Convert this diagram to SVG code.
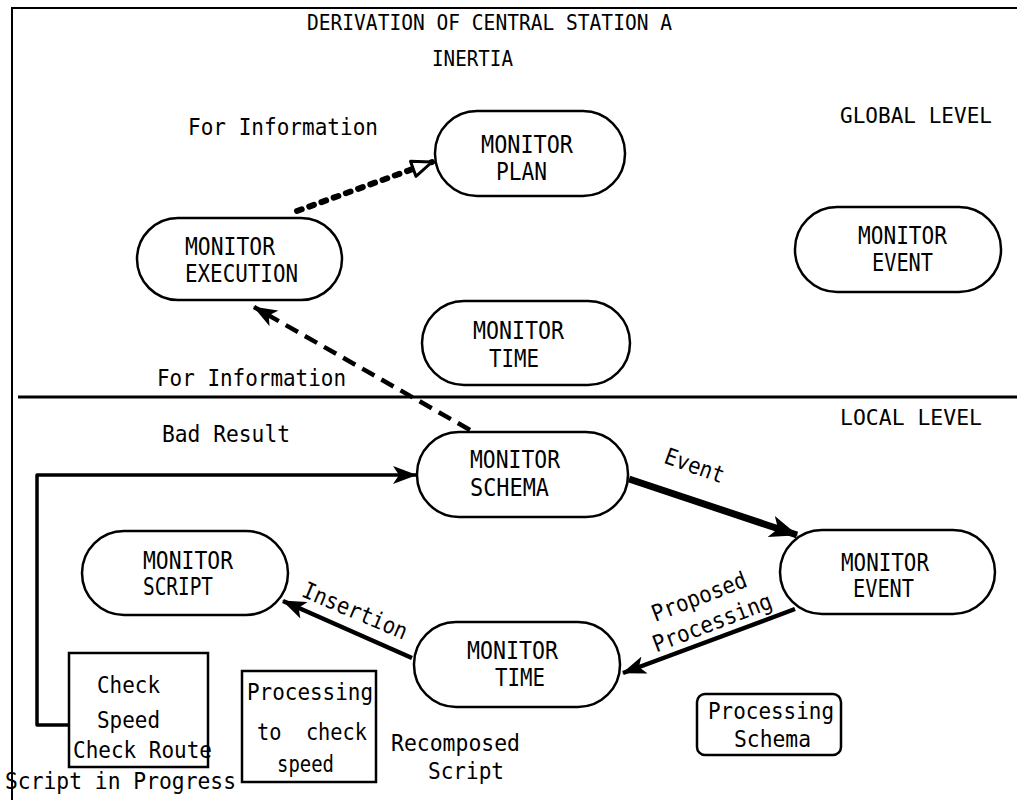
<svg xmlns="http://www.w3.org/2000/svg" width="1017" height="800" viewBox="0 0 1017 800">
<style>
text{font-family:"DejaVu Sans Mono","Liberation Mono",monospace;fill:#000;}
.n{font-size:24px;}
.l{font-size:23px;}
.t{font-size:21px;}
.pre{white-space:pre;}
.node{fill:#fff;stroke:#000;stroke-width:2.5;}
.box{fill:#fff;stroke:#000;stroke-width:2.5;}
.c{fill:none;stroke:#000;}
</style>
<defs>
<marker id="ah" viewBox="0 0 24 18" refX="23" refY="9" markerWidth="24" markerHeight="18" orient="auto" markerUnits="userSpaceOnUse"><path d="M0,0 L24,9 L0,18 L6,9 z" fill="#000"/></marker>
<marker id="ahb" viewBox="0 0 28 22" refX="27" refY="11" markerWidth="28" markerHeight="22" orient="auto" markerUnits="userSpaceOnUse"><path d="M0,0 L28,11 L0,22 L7,11 z" fill="#000"/></marker>
<marker id="aho" viewBox="0 0 24 20" refX="22" refY="10" markerWidth="24" markerHeight="20" orient="auto" markerUnits="userSpaceOnUse"><path d="M2,2 L22,10 L2,18 z" fill="#fff" stroke="#000" stroke-width="3" stroke-linejoin="round"/></marker>
</defs>
<g id="frame">
<path d="M12,800 L12,8 L1017,8" fill="none" stroke="#000" stroke-width="2"/>
<line x1="18" y1="397" x2="1017" y2="397" stroke="#000" stroke-width="3"/>
</g>
<g id="labels">
<text class="t" x="307" y="30" textLength="365" lengthAdjust="spacingAndGlyphs">DERIVATION OF CENTRAL STATION A</text>
<text class="t" x="432" y="66" textLength="81" lengthAdjust="spacingAndGlyphs">INERTIA</text>
<text class="t" x="840" y="123" textLength="152" lengthAdjust="spacingAndGlyphs">GLOBAL LEVEL</text>
<text class="t" x="840" y="425" textLength="142" lengthAdjust="spacingAndGlyphs">LOCAL LEVEL</text>
<text class="l" x="188" y="135" textLength="190" lengthAdjust="spacingAndGlyphs">For Information</text>
<text class="l" x="157" y="386" textLength="189" lengthAdjust="spacingAndGlyphs">For Information</text>
<text class="l" x="162" y="442" textLength="128" lengthAdjust="spacingAndGlyphs">Bad Result</text>
<text class="l" transform="translate(692,473) rotate(20)" text-anchor="middle" textLength="62" lengthAdjust="spacingAndGlyphs">Event</text>
<text class="l" transform="translate(702,604) rotate(-21)" text-anchor="middle" textLength="100" lengthAdjust="spacingAndGlyphs">Proposed</text>
<text class="l" transform="translate(715,630) rotate(-21)" text-anchor="middle" textLength="126" lengthAdjust="spacingAndGlyphs">Processing</text>
<text class="l" transform="translate(352,618) rotate(23)" text-anchor="middle" textLength="112" lengthAdjust="spacingAndGlyphs">Insertion</text>
<text class="l" x="5" y="789" textLength="231" lengthAdjust="spacingAndGlyphs">Script in Progress</text>
<text class="l" x="391" y="751" textLength="129" lengthAdjust="spacingAndGlyphs">Recomposed</text>
<text class="l" x="428" y="779" textLength="76" lengthAdjust="spacingAndGlyphs">Script</text>
</g>
<g id="connectors">
<path class="c" d="M297,211 L432,162" stroke-width="6" stroke-dasharray="5,8" stroke-linecap="round" marker-end="url(#aho)"/>
<path class="c" d="M470,430 L254,307" stroke-width="4.5" stroke-dasharray="14,8" marker-end="url(#ah)"/>
<path class="c" d="M69,725 L37,725 L37,475 L416,475" stroke-width="3.5" stroke-linejoin="round" marker-end="url(#ah)"/>
<path class="c" d="M629,479 L797,535" stroke-width="7" marker-end="url(#ahb)"/>
<path class="c" d="M795,609 L623,673" stroke-width="4.5" marker-end="url(#ah)"/>
<path class="c" d="M412,658 L283,601" stroke-width="4.5" marker-end="url(#ah)"/>
</g>
<g id="node-plan"><rect class="node" x="435" y="111" width="190" height="85" rx="42" ry="42"/><text class="n" x="481" y="153" textLength="92" lengthAdjust="spacingAndGlyphs">MONITOR</text><text class="n" x="496" y="180" textLength="51" lengthAdjust="spacingAndGlyphs">PLAN</text></g>
<g id="node-execution"><rect class="node" x="137" y="218" width="205" height="82" rx="41" ry="41"/><text class="n" x="185" y="255" textLength="90" lengthAdjust="spacingAndGlyphs">MONITOR</text><text class="n" x="185" y="282" textLength="113" lengthAdjust="spacingAndGlyphs">EXECUTION</text></g>
<g id="node-global-event"><rect class="node" x="795" y="207" width="206" height="85" rx="42" ry="42"/><text class="n" x="858" y="244" textLength="89" lengthAdjust="spacingAndGlyphs">MONITOR</text><text class="n" x="872" y="271" textLength="61" lengthAdjust="spacingAndGlyphs">EVENT</text></g>
<g id="node-global-time"><rect class="node" x="422" y="301" width="208" height="84" rx="42" ry="42"/><text class="n" x="473" y="339" textLength="91" lengthAdjust="spacingAndGlyphs">MONITOR</text><text class="n" x="489" y="367" textLength="50" lengthAdjust="spacingAndGlyphs">TIME</text></g>
<g id="node-schema"><rect class="node" x="417" y="432" width="211" height="85" rx="42" ry="42"/><text class="n" x="470" y="468" textLength="90" lengthAdjust="spacingAndGlyphs">MONITOR</text><text class="n" x="470" y="496" textLength="79" lengthAdjust="spacingAndGlyphs">SCHEMA</text></g>
<g id="node-script"><rect class="node" x="82" y="531" width="206" height="84" rx="42" ry="42"/><text class="n" x="143" y="569" textLength="90" lengthAdjust="spacingAndGlyphs">MONITOR</text><text class="n" x="143" y="595" textLength="70" lengthAdjust="spacingAndGlyphs">SCRIPT</text></g>
<g id="node-local-event"><rect class="node" x="780" y="530" width="215" height="84" rx="42" ry="42"/><text class="n" x="841" y="571" textLength="88" lengthAdjust="spacingAndGlyphs">MONITOR</text><text class="n" x="853" y="597" textLength="61" lengthAdjust="spacingAndGlyphs">EVENT</text></g>
<g id="node-local-time"><rect class="node" x="414" y="622" width="206" height="85" rx="42" ry="42"/><text class="n" x="467" y="659" textLength="91" lengthAdjust="spacingAndGlyphs">MONITOR</text><text class="n" x="495" y="686" textLength="50" lengthAdjust="spacingAndGlyphs">TIME</text></g>
<g id="box-check"><rect class="box" x="69" y="653" width="139" height="114"/><text class="l" x="97" y="693" textLength="63" lengthAdjust="spacingAndGlyphs">Check</text><text class="l" x="97" y="728" textLength="63" lengthAdjust="spacingAndGlyphs">Speed</text><text class="l" x="73" y="758" textLength="139" lengthAdjust="spacingAndGlyphs">Check Route</text></g>
<g id="box-processing"><rect class="box" x="242" y="671" width="134" height="111"/><text class="l" x="247" y="700" textLength="126" lengthAdjust="spacingAndGlyphs">Processing</text><text class="l pre" x="257" y="740" textLength="110" lengthAdjust="spacingAndGlyphs">to  check</text><text class="l" x="277" y="772" textLength="57" lengthAdjust="spacingAndGlyphs">speed</text></g>
<g id="box-schema"><rect class="box" x="697" y="694" width="144" height="61" rx="8" ry="8"/><text class="l" x="708" y="719" textLength="126" lengthAdjust="spacingAndGlyphs">Processing</text><text class="l" x="734" y="747" textLength="77" lengthAdjust="spacingAndGlyphs">Schema</text></g>
</svg>
